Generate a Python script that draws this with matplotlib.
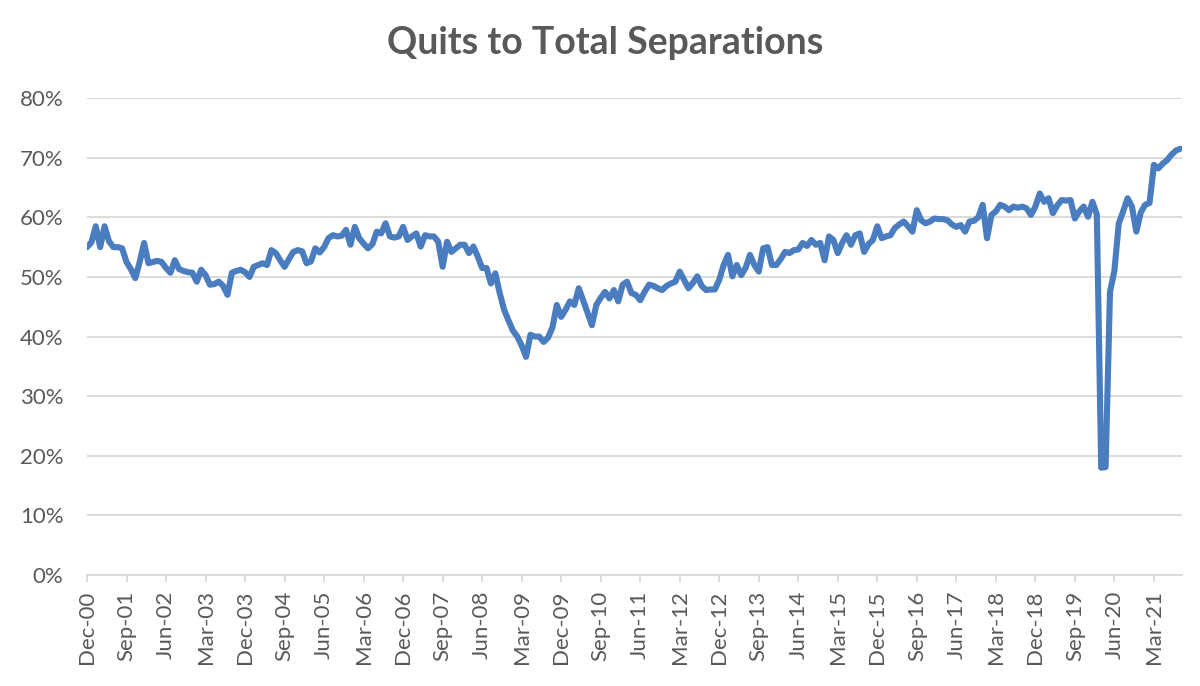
import matplotlib
matplotlib.use("Agg")
import matplotlib.pyplot as plt
import numpy as np

# Quits as share of total separations, monthly, Dec-2000 .. Sep-2021 (percent)
dec_2000 = [55.0]
y2001 = [55.8, 58.5, 55.0, 58.5, 56.0, 55.0, 55.0, 54.8, 52.5, 51.3, 49.8, 52.5]
y2002 = [55.7, 52.3, 52.5, 52.7, 52.5, 51.5, 50.7, 52.8, 51.3, 51.0, 50.8, 50.7]
y2003 = [49.2, 51.2, 50.3, 48.7, 48.8, 49.2, 48.5, 47.0, 50.7, 51.0, 51.2, 50.8]
y2004 = [50.0, 51.7, 52.0, 52.3, 52.0, 54.5, 54.0, 52.8, 51.7, 53.0, 54.2, 54.5]
y2005 = [54.3, 52.3, 52.6, 54.8, 54.1, 55.0, 56.5, 57.0, 56.8, 56.9, 57.9, 55.4]
y2006 = [58.4, 56.5, 55.6, 54.8, 55.5, 57.6, 57.3, 59.0, 56.8, 56.6, 56.8, 58.4]
y2007 = [56.2, 56.8, 57.3, 55.1, 57.0, 56.8, 56.8, 55.9, 51.7, 55.9, 54.2, 54.8]
y2008 = [55.4, 55.4, 54.0, 55.1, 53.4, 51.5, 51.5, 48.9, 50.6, 47.3, 44.5, 42.7]
y2009 = [41.0, 40.0, 38.5, 36.6, 40.3, 40.0, 40.0, 39.1, 39.8, 41.5, 45.3, 43.3]
y2010 = [44.5, 45.9, 45.3, 48.1, 46.1, 44.0, 41.9, 45.3, 46.5, 47.5, 46.4, 47.8]
y2011 = [45.9, 48.7, 49.2, 47.3, 47.0, 46.1, 47.5, 48.7, 48.5, 48.1, 47.8, 48.5]
y2012 = [48.9, 49.2, 50.9, 49.5, 48.1, 49.0, 50.1, 48.5, 47.8, 47.9, 47.9, 49.5]
y2013 = [52.0, 53.7, 50.1, 52.0, 50.3, 51.5, 53.7, 52.0, 50.9, 54.8, 55.0, 52.0]
y2014 = [52.0, 53.0, 54.2, 54.0, 54.5, 54.6, 55.7, 55.2, 56.2, 55.4, 55.7, 52.8]
y2015 = [56.8, 56.2, 54.0, 55.7, 57.0, 55.4, 57.0, 57.3, 54.2, 55.5, 56.2, 58.5]
y2016 = [56.5, 56.8, 57.0, 58.2, 58.8, 59.3, 58.5, 57.6, 61.2, 59.5, 59.0, 59.3]
y2017 = [59.8, 59.7, 59.7, 59.5, 58.8, 58.4, 58.7, 57.6, 59.3, 59.4, 60.0, 62.1]
y2018 = [56.5, 60.4, 61.0, 62.1, 61.8, 61.2, 61.8, 61.6, 61.8, 61.5, 60.4, 61.8]
y2019 = [64.0, 62.6, 63.2, 60.7, 62.0, 62.9, 62.8, 62.9, 59.8, 61.0, 61.8, 60.1]
y2020 = [62.6, 60.5, 18.0, 18.1, 47.5, 51.0, 59.0, 61.0, 63.2, 61.8, 57.6, 60.8]
y2021 = [62.1, 62.4, 68.8, 68.2, 69.0, 69.6, 70.5, 71.2, 71.5]

quits_share = np.array(dec_2000 + y2001 + y2002 + y2003 + y2004 + y2005 + y2006
                       + y2007 + y2008 + y2009 + y2010 + y2011 + y2012 + y2013
                       + y2014 + y2015 + y2016 + y2017 + y2018 + y2019 + y2020
                       + y2021) / 100.0

month_names = ["Jan", "Feb", "Mar", "Apr", "May", "Jun",
               "Jul", "Aug", "Sep", "Oct", "Nov", "Dec"]
tick_step = 9  # one label every 9 months, as in the original

months = np.arange(len(quits_share))


def month_label(m):
    # m = months since Dec-2000
    idx = (11 + m) % 12
    year = 2000 + (11 + m) // 12
    return f"{month_names[idx]}-{year % 100:02d}"


grey = "#595959"
grid = "#d9d9d9"
line_blue = "#4a7dc0"

plt.rcParams["font.family"] = ["Lato", "DejaVu Sans"]

fig = plt.figure(figsize=(12, 6.86), dpi=100)
ax = fig.add_axes([0.0725, 0.1618, 0.9125, 0.6952])

ax.plot(months, quits_share, color=line_blue, lw=4.4, solid_joinstyle="round",
        solid_capstyle="round", zorder=3)

ax.set_ylim(0, 0.8)
ax.set_xlim(0, 249.4)
ax.set_yticks(np.arange(0, 0.81, 0.1))
ax.set_yticklabels([f"{int(round(v * 100))}%" for v in np.arange(0, 0.81, 0.1)])

tick_pos = np.arange(0, len(quits_share), tick_step)
ax.set_xticks(tick_pos)
ax.set_xticklabels([month_label(m) for m in tick_pos], rotation=90)

ax.grid(axis="y", color=grid, lw=1.3, zorder=0)
ax.set_axisbelow(True)
for side in ["top", "right", "left"]:
    ax.spines[side].set_visible(False)
ax.spines["bottom"].set_color(grid)
ax.spines["bottom"].set_linewidth(1.3)

ax.tick_params(axis="y", length=0, pad=17, labelsize=16, labelcolor=grey)
ax.tick_params(axis="x", length=5, width=1.3, color=grid, pad=6,
               labelsize=16, labelcolor=grey)

fig.suptitle("Quits to Total Separations", x=0.504, y=0.962, fontsize=27,
             fontweight="bold", color=grey)

fig.savefig("out.png", dpi=100)
